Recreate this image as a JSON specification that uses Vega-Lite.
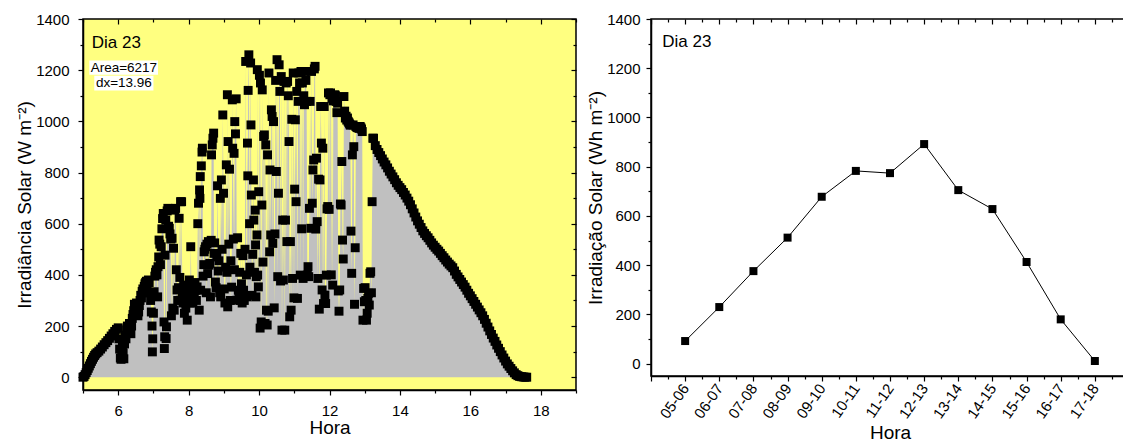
{
"$schema": "https://vega.github.io/schema/vega-lite/v6.json",
"bounds": "flush",
"spacing": 75,
"padding": {"left": 14, "top": 11, "right": 0, "bottom": 0},
"config": {
 "font": "Liberation Sans",
 "axis": {"labelFont": "Liberation Sans", "labelFontSize": 15, "labelColor": "#000", "titleFont": "Liberation Sans", "titleFontSize": 19, "titleFontWeight": "normal", "titleColor": "#000", "domainColor": "#000", "domainWidth": 1.5, "tickColor": "#000", "tickWidth": 1.2, "grid": false, "labelOverlap": false, "labelFlush": false}
},
"datasets": {
"irr": [
{"h":5.00,"w":0},{"h":5.03,"w":3},{"h":5.06,"w":10},{"h":5.09,"w":18},{"h":5.12,"w":26},{"h":5.15,"w":35},{"h":5.18,"w":44},{"h":5.21,"w":53},{"h":5.24,"w":62},{"h":5.27,"w":70},{"h":5.30,"w":78},{"h":5.33,"w":85},{"h":5.36,"w":91},{"h":5.40,"w":96},{"h":5.45,"w":102},{"h":5.50,"w":110},{"h":5.55,"w":118},{"h":5.60,"w":127},{"h":5.65,"w":135},{"h":5.70,"w":143},{"h":5.75,"w":152},{"h":5.80,"w":161},{"h":5.85,"w":170},{"h":5.90,"w":179},{"h":5.95,"w":187},{"h":6.00,"w":193},
{"h":6.02,"w":150},{"h":6.04,"w":110},{"h":6.06,"w":75},{"h":6.08,"w":70},{"h":6.10,"w":85},{"h":6.12,"w":120},{"h":6.14,"w":95},{"h":6.16,"w":72},{"h":6.18,"w":130},{"h":6.20,"w":165},{"h":6.22,"w":150},{"h":6.24,"w":185},{"h":6.26,"w":200},{"h":6.28,"w":175},{"h":6.30,"w":195},{"h":6.32,"w":210},{"h":6.34,"w":190},{"h":6.36,"w":170},{"h":6.38,"w":200},{"h":6.40,"w":230},{"h":6.42,"w":245},{"h":6.44,"w":260},{"h":6.46,"w":285},{"h":6.48,"w":270},{"h":6.50,"w":250},{"h":6.52,"w":290},{"h":6.54,"w":275},{"h":6.56,"w":240},{"h":6.58,"w":255},{"h":6.60,"w":280},{"h":6.62,"w":300},{"h":6.64,"w":320},{"h":6.66,"w":310},{"h":6.68,"w":335},{"h":6.70,"w":345},{"h":6.72,"w":330},{"h":6.74,"w":355},{"h":6.76,"w":365},{"h":6.78,"w":370},{"h":6.80,"w":375},{"h":6.82,"w":360},{"h":6.84,"w":375},{"h":6.86,"w":380},{"h":6.88,"w":370},{"h":6.90,"w":330},{"h":6.92,"w":300},{"h":6.94,"w":255},{"h":6.96,"w":200},{"h":6.97,"w":99},{"h":6.98,"w":150},{"h":7.00,"w":250},
{"h":7.02,"w":334},{"h":7.04,"w":395},{"h":7.06,"w":410},{"h":7.08,"w":420},{"h":7.10,"w":400},{"h":7.12,"w":314},{"h":7.13,"w":432},{"h":7.15,"w":470},{"h":7.16,"w":536},{"h":7.18,"w":520},{"h":7.20,"w":440},{"h":7.22,"w":510},{"h":7.24,"w":580},{"h":7.26,"w":620},{"h":7.28,"w":640},{"h":7.30,"w":216},{"h":7.31,"w":112},{"h":7.32,"w":158},{"h":7.33,"w":477},{"h":7.35,"w":614},{"h":7.36,"w":151},{"h":7.37,"w":197},{"h":7.39,"w":650},{"h":7.41,"w":660},{"h":7.43,"w":590},{"h":7.45,"w":582},{"h":7.47,"w":560},{"h":7.49,"w":540},{"h":7.51,"w":240},{"h":7.53,"w":543},{"h":7.55,"w":270},{"h":7.57,"w":504},{"h":7.59,"w":262},{"h":7.61,"w":653},{"h":7.63,"w":660},{"h":7.65,"w":420},{"h":7.67,"w":341},{"h":7.69,"w":300},{"h":7.71,"w":350},{"h":7.73,"w":621},{"h":7.75,"w":390},{"h":7.77,"w":686},{"h":7.78,"w":301},{"h":7.80,"w":686},{"h":7.82,"w":330},{"h":7.84,"w":290},{"h":7.86,"w":360},{"h":7.88,"w":250},{"h":7.90,"w":310},{"h":7.92,"w":270},{"h":7.94,"w":350},{"h":7.96,"w":223},{"h":7.98,"w":330},
{"h":8.00,"w":300},{"h":8.02,"w":380},{"h":8.04,"w":290},{"h":8.06,"w":510},{"h":8.08,"w":350},{"h":8.10,"w":310},{"h":8.12,"w":290},{"h":8.14,"w":330},{"h":8.16,"w":314},{"h":8.18,"w":370},{"h":8.20,"w":340},{"h":8.22,"w":300},{"h":8.24,"w":353},{"h":8.26,"w":600},{"h":8.28,"w":680},{"h":8.30,"w":262},{"h":8.31,"w":732},{"h":8.32,"w":699},{"h":8.33,"w":784},{"h":8.34,"w":340},{"h":8.36,"w":826},{"h":8.38,"w":880},{"h":8.39,"w":895},{"h":8.41,"w":395},{"h":8.43,"w":440},{"h":8.44,"w":490},{"h":8.46,"w":500},{"h":8.48,"w":510},{"h":8.50,"w":330},{"h":8.52,"w":520},{"h":8.54,"w":405},{"h":8.56,"w":530},{"h":8.58,"w":438},{"h":8.60,"w":445},{"h":8.62,"w":314},{"h":8.64,"w":535},{"h":8.65,"w":869},{"h":8.67,"w":908},{"h":8.69,"w":934},{"h":8.71,"w":954},{"h":8.72,"w":484},{"h":8.74,"w":525},{"h":8.76,"w":372},{"h":8.78,"w":350},{"h":8.80,"w":470},{"h":8.82,"w":748},{"h":8.84,"w":415},{"h":8.86,"w":455},{"h":8.88,"w":330},{"h":8.90,"w":699},{"h":8.91,"w":314},{"h":8.93,"w":771},{"h":8.95,"w":500},{"h":8.97,"w":1025},{"h":8.99,"w":719},
{"h":9.01,"w":345},{"h":9.03,"w":290},{"h":9.05,"w":430},{"h":9.07,"w":830},{"h":9.09,"w":410},{"h":9.10,"w":1104},{"h":9.11,"w":275},{"h":9.12,"w":921},{"h":9.14,"w":520},{"h":9.16,"w":813},{"h":9.18,"w":300},{"h":9.20,"w":455},{"h":9.22,"w":352},{"h":9.24,"w":1084},{"h":9.25,"w":895},{"h":9.27,"w":540},{"h":9.29,"w":875},{"h":9.30,"w":420},{"h":9.31,"w":999},{"h":9.33,"w":951},{"h":9.35,"w":1088},{"h":9.37,"w":301},{"h":9.39,"w":545},{"h":9.41,"w":340},{"h":9.43,"w":320},{"h":9.45,"w":410},{"h":9.47,"w":300},{"h":9.48,"w":484},{"h":9.50,"w":365},{"h":9.52,"w":290},{"h":9.54,"w":475},{"h":9.56,"w":340},{"h":9.58,"w":300},{"h":9.60,"w":500},{"h":9.62,"w":1234},{"h":9.64,"w":400},{"h":9.66,"w":314},{"h":9.67,"w":915},{"h":9.68,"w":787},{"h":9.69,"w":1121},{"h":9.71,"w":1260},{"h":9.73,"w":600},{"h":9.74,"w":430},{"h":9.76,"w":1228},{"h":9.77,"w":986},{"h":9.78,"w":712},{"h":9.80,"w":320},{"h":9.82,"w":480},{"h":9.84,"w":771},{"h":9.85,"w":614},{"h":9.87,"w":410},{"h":9.89,"w":653},{"h":9.90,"w":517},{"h":9.91,"w":314},{"h":9.92,"w":393},{"h":9.94,"w":556},{"h":9.95,"w":1202},{"h":9.96,"w":399},{"h":9.98,"w":353},{"h":9.99,"w":725},
{"h":10.01,"w":1180},{"h":10.03,"w":192},{"h":10.04,"w":1150},{"h":10.06,"w":216},{"h":10.08,"w":673},{"h":10.09,"w":1123},{"h":10.11,"w":450},{"h":10.13,"w":941},{"h":10.15,"w":947},{"h":10.17,"w":210},{"h":10.19,"w":908},{"h":10.21,"w":262},{"h":10.23,"w":204},{"h":10.24,"w":869},{"h":10.26,"w":258},{"h":10.28,"w":1189},{"h":10.30,"w":490},{"h":10.31,"w":810},{"h":10.33,"w":556},{"h":10.35,"w":1045},{"h":10.37,"w":1019},{"h":10.39,"w":523},{"h":10.41,"w":999},{"h":10.43,"w":271},{"h":10.45,"w":560},{"h":10.47,"w":1160},{"h":10.49,"w":804},{"h":10.51,"w":1241},{"h":10.53,"w":393},{"h":10.55,"w":719},{"h":10.57,"w":1221},{"h":10.59,"w":1117},{"h":10.61,"w":376},{"h":10.63,"w":1175},{"h":10.65,"w":184},{"h":10.67,"w":614},{"h":10.69,"w":380},{"h":10.71,"w":1156},{"h":10.73,"w":184},{"h":10.75,"w":614},{"h":10.77,"w":1150},{"h":10.79,"w":530},{"h":10.81,"w":1156},{"h":10.83,"w":1100},{"h":10.85,"w":921},{"h":10.87,"w":236},{"h":10.89,"w":530},{"h":10.91,"w":262},{"h":10.93,"w":1008},{"h":10.95,"w":386},{"h":10.97,"w":1189},{"h":10.99,"w":310},
{"h":11.01,"w":735},{"h":11.03,"w":1006},{"h":11.05,"w":686},{"h":11.07,"w":1117},{"h":11.09,"w":308},{"h":11.11,"w":1078},{"h":11.13,"w":1189},{"h":11.15,"w":1150},{"h":11.17,"w":399},{"h":11.19,"w":1195},{"h":11.21,"w":580},{"h":11.23,"w":1150},{"h":11.25,"w":386},{"h":11.27,"w":1100},{"h":11.29,"w":1065},{"h":11.31,"w":1195},{"h":11.33,"w":1160},{"h":11.35,"w":1078},{"h":11.37,"w":399},{"h":11.39,"w":432},{"h":11.41,"w":393},{"h":11.43,"w":660},{"h":11.45,"w":1078},{"h":11.47,"w":582},{"h":11.49,"w":1195},{"h":11.51,"w":680},{"h":11.53,"w":810},{"h":11.55,"w":849},{"h":11.57,"w":1205},{"h":11.59,"w":1215},{"h":11.61,"w":579},{"h":11.63,"w":856},{"h":11.65,"w":608},{"h":11.67,"w":386},{"h":11.69,"w":774},{"h":11.71,"w":266},{"h":11.73,"w":771},{"h":11.75,"w":1058},{"h":11.77,"w":915},{"h":11.79,"w":341},{"h":11.81,"w":895},{"h":11.83,"w":288},{"h":11.85,"w":1058},{"h":11.87,"w":321},{"h":11.89,"w":288},{"h":11.91,"w":399},{"h":11.93,"w":658},{"h":11.95,"w":667},{"h":11.97,"w":1111},{"h":11.99,"w":656},
{"h":12.01,"w":1104},{"h":12.03,"w":1111},{"h":12.05,"w":400},{"h":12.07,"w":1090},{"h":12.09,"w":360},{"h":12.11,"w":1080},{"h":12.13,"w":1095},{"h":12.15,"w":1104},{"h":12.17,"w":1100},{"h":12.19,"w":1078},{"h":12.21,"w":1034},{"h":12.23,"w":1071},{"h":12.25,"w":337},{"h":12.27,"w":258},{"h":12.29,"w":341},{"h":12.31,"w":677},{"h":12.33,"w":673},{"h":12.35,"w":843},{"h":12.37,"w":536},{"h":12.39,"w":462},{"h":12.41,"w":1097},{"h":12.43,"w":1040},{"h":12.45,"w":1013},{"h":12.47,"w":1020},{"h":12.49,"w":1005},{"h":12.51,"w":1013},{"h":12.53,"w":1000},{"h":12.55,"w":995},{"h":12.57,"w":990},{"h":12.59,"w":985},{"h":12.61,"w":571},{"h":12.63,"w":406},{"h":12.65,"w":869},{"h":12.67,"w":986},{"h":12.69,"w":901},{"h":12.71,"w":285},{"h":12.73,"w":506},{"h":12.75,"w":980},{"h":12.77,"w":978},{"h":12.79,"w":976},{"h":12.81,"w":975},{"h":12.83,"w":974},{"h":12.85,"w":973},{"h":12.87,"w":980},{"h":12.89,"w":975},{"h":12.91,"w":970},{"h":12.93,"w":960},{"h":12.95,"w":223},{"h":12.97,"w":347},{"h":12.99,"w":295},
{"h":13.01,"w":350},{"h":13.03,"w":300},{"h":13.05,"w":223},{"h":13.07,"w":250},{"h":13.09,"w":308},{"h":13.11,"w":328},{"h":13.13,"w":282},{"h":13.15,"w":406},{"h":13.17,"w":412},{"h":13.19,"w":330},{"h":13.21,"w":686},{"h":13.23,"w":934},
{"h":13.25,"w":934},{"h":13.30,"w":905},{"h":13.35,"w":890},{"h":13.40,"w":878},{"h":13.45,"w":866},{"h":13.50,"w":853},{"h":13.55,"w":841},{"h":13.60,"w":830},{"h":13.65,"w":818},{"h":13.70,"w":805},{"h":13.75,"w":794},{"h":13.80,"w":783},{"h":13.85,"w":772},{"h":13.90,"w":760},{"h":13.95,"w":750},{"h":14.00,"w":741},{"h":14.05,"w":733},{"h":14.10,"w":722},{"h":14.15,"w":712},{"h":14.20,"w":700},{"h":14.25,"w":688},{"h":14.30,"w":674},{"h":14.35,"w":658},{"h":14.40,"w":642},{"h":14.45,"w":626},{"h":14.50,"w":611},{"h":14.55,"w":598},{"h":14.60,"w":585},{"h":14.65,"w":572},{"h":14.70,"w":562},{"h":14.75,"w":553},{"h":14.80,"w":545},{"h":14.85,"w":535},{"h":14.90,"w":525},{"h":14.95,"w":516},{"h":15.00,"w":508},{"h":15.05,"w":500},{"h":15.10,"w":493},{"h":15.15,"w":484},{"h":15.20,"w":475},{"h":15.25,"w":467},{"h":15.30,"w":458},{"h":15.35,"w":450},{"h":15.40,"w":442},{"h":15.45,"w":435},{"h":15.50,"w":428},{"h":15.55,"w":415},{"h":15.60,"w":402},{"h":15.65,"w":392},{"h":15.70,"w":382},{"h":15.75,"w":372},{"h":15.80,"w":362},{"h":15.85,"w":352},{"h":15.90,"w":340},{"h":15.95,"w":328},{"h":16.00,"w":318},{"h":16.05,"w":307},{"h":16.10,"w":296},{"h":16.15,"w":285},{"h":16.20,"w":274},{"h":16.25,"w":263},{"h":16.30,"w":252},{"h":16.35,"w":240},{"h":16.40,"w":226},{"h":16.45,"w":211},{"h":16.50,"w":196},{"h":16.55,"w":181},{"h":16.60,"w":167},{"h":16.65,"w":153},{"h":16.70,"w":140},{"h":16.75,"w":126},{"h":16.80,"w":113},{"h":16.85,"w":100},{"h":16.90,"w":87},{"h":16.95,"w":75},{"h":17.00,"w":63},{"h":17.05,"w":52},{"h":17.10,"w":43},{"h":17.15,"w":34},{"h":17.20,"w":25},{"h":17.25,"w":17},{"h":17.30,"w":10},{"h":17.35,"w":6},{"h":17.40,"w":3},{"h":17.45,"w":2},{"h":17.50,"w":1},{"h":17.55,"w":0},{"h":17.60,"w":0}
],
"diario": [
{"inicio":5,"wh":92},{"inicio":6,"wh":230},{"inicio":7,"wh":376},{"inicio":8,"wh":512},{"inicio":9,"wh":678},{"inicio":10,"wh":783},{"inicio":11,"wh":774},{"inicio":12,"wh":892},{"inicio":13,"wh":705},{"inicio":14,"wh":628},{"inicio":15,"wh":413},{"inicio":16,"wh":180},{"inicio":17,"wh":11}
]
},
"hconcat": [
{
 "width": 493, "height": 371,
 "view": {"fill": "#ffff80", "stroke": "#000", "strokeWidth": 1.5},
 "resolve": {"axis": {"x": "independent", "y": "independent"}},
 "layer": [
  {
   "data": {"name": "irr"},
   "mark": {"type": "area", "color": "#c0c0c0", "opacity": 1},
   "encoding": {
    "x": {"field": "h", "type": "quantitative", "scale": {"domain": [5, 19], "nice": false, "zero": false},
      "axis": {"orient": "bottom", "title": "Hora", "values": [5,6,7,8,9,10,11,12,13,14,15,16,17,18,19], "format": "d", "labelExpr": "datum.value % 2 === 0 ? datum.label : ''", "tickSize": {"condition": {"test": "datum.value % 2 !== 0", "value": 3}, "value": 5}, "labelPadding": 8, "titlePadding": 0}},
    "y": {"field": "w", "type": "quantitative", "scale": {"domain": [-50, 1400], "nice": false, "zero": false},
      "axis": {"orient": "left", "title": "Irradiância Solar (W m⁻²)", "values": [0,100,200,300,400,500,600,700,800,900,1000,1100,1200,1300,1400], "format": "d", "labelExpr": "datum.value % 200 === 0 ? datum.label : ''", "tickSize": {"condition": {"test": "datum.value % 200 !== 0", "value": 3}, "value": 5}, "labelPadding": 9, "titlePadding": 1}},
    "y2": {"datum": 0}
   }
  },
  {
   "data": {"name": "irr"},
   "mark": {"type": "point", "shape": "square", "filled": true, "color": "#000", "size": 80, "opacity": 1},
   "encoding": {
    "x": {"field": "h", "type": "quantitative", "scale": {"domain": [5, 19], "nice": false, "zero": false}, "axis": null},
    "y": {"field": "w", "type": "quantitative", "scale": {"domain": [-50, 1400], "nice": false, "zero": false}, "axis": null}
   }
  },
  {
   "data": {"values": [{}]},
   "mark": {"type": "rect", "color": "#ffffff", "opacity": 1},
   "encoding": {
    "x": {"datum": 5.18, "type": "quantitative", "scale": {"domain": [5, 19], "nice": false, "zero": false},
      "axis": {"orient": "top", "title": null, "labels": false, "domain": false, "values": [5,6,7,8,9,10,11,12,13,14,15,16,17,18,19], "tickSize": {"condition": {"test": "datum.value % 2 !== 0", "value": -3}, "value": -5}}},
    "x2": {"datum": 7.13},
    "y": {"datum": 1238, "type": "quantitative", "scale": {"domain": [-50, 1400], "nice": false, "zero": false},
      "axis": {"orient": "right", "title": null, "labels": false, "domain": false, "values": [0,100,200,300,400,500,600,700,800,900,1000,1100,1200,1300,1400], "tickSize": {"condition": {"test": "datum.value % 200 !== 0", "value": -3}, "value": -5}}},
    "y2": {"datum": 1182}
   }
  },
  {
   "data": {"values": [{}]},
   "mark": {"type": "rect", "color": "#ffffff", "opacity": 1},
   "encoding": {
    "x": {"datum": 5.32, "type": "quantitative", "scale": {"domain": [5, 19], "nice": false, "zero": false}, "axis": null},
    "x2": {"datum": 7.0},
    "y": {"datum": 1178, "type": "quantitative", "scale": {"domain": [-50, 1400], "nice": false, "zero": false}, "axis": null},
    "y2": {"datum": 1121}
   }
  },
  {
   "data": {"values": [{}]},
   "mark": {"type": "text", "align": "left", "baseline": "middle", "font": "Liberation Sans", "fontSize": 17, "color": "#000"},
   "encoding": {
    "x": {"datum": 5.25, "type": "quantitative", "scale": {"domain": [5, 19], "nice": false, "zero": false}, "axis": null},
    "y": {"datum": 1305, "type": "quantitative", "scale": {"domain": [-50, 1400], "nice": false, "zero": false}, "axis": null},
    "text": {"value": "Dia 23"}
   }
  },
  {
   "data": {"values": [{}]},
   "mark": {"type": "text", "align": "center", "baseline": "middle", "font": "Liberation Sans", "fontSize": 13.5, "color": "#000"},
   "encoding": {
    "x": {"datum": 6.16, "type": "quantitative", "scale": {"domain": [5, 19], "nice": false, "zero": false}, "axis": null},
    "y": {"datum": 1209, "type": "quantitative", "scale": {"domain": [-50, 1400], "nice": false, "zero": false}, "axis": null},
    "text": {"value": "Area=6217"}
   }
  },
  {
   "data": {"values": [{}]},
   "mark": {"type": "text", "align": "center", "baseline": "middle", "font": "Liberation Sans", "fontSize": 13.5, "color": "#000"},
   "encoding": {
    "x": {"datum": 6.16, "type": "quantitative", "scale": {"domain": [5, 19], "nice": false, "zero": false}, "axis": null},
    "y": {"datum": 1149, "type": "quantitative", "scale": {"domain": [-50, 1400], "nice": false, "zero": false}, "axis": null},
    "text": {"value": "dx=13.96"}
   }
  }
 ]
},
{
 "width": 478, "height": 357,
 "view": {"fill": "#ffffff", "stroke": "#000", "strokeWidth": 1.5},
 "resolve": {"axis": {"x": "independent", "y": "independent"}},
 "layer": [
  {
   "data": {"name": "diario"},
   "mark": {"type": "line", "color": "#000", "strokeWidth": 1},
   "encoding": {
    "x": {"field": "inicio", "type": "quantitative", "scale": {"domain": [4, 18], "nice": false, "zero": false},
      "axis": {"orient": "bottom", "title": "Hora", "values": [4,4.5,5,5.5,6,6.5,7,7.5,8,8.5,9,9.5,10,10.5,11,11.5,12,12.5,13,13.5,14,14.5,15,15.5,16,16.5,17,17.5,18], "labelExpr": "(datum.value % 1 === 0 && datum.value >= 5 && datum.value <= 17) ? ((datum.value < 10 ? '0' : '') + datum.value + '-' + (datum.value + 1 < 10 ? '0' : '') + (datum.value + 1)) : ''", "labelAngle": -55, "labelAlign": "right", "labelBaseline": "middle", "tickSize": {"condition": {"test": "datum.value % 1 !== 0", "value": 3}, "value": 5}, "labelPadding": 4, "titlePadding": 2}},
    "y": {"field": "wh", "type": "quantitative", "scale": {"domain": [-50, 1400], "nice": false, "zero": false},
      "axis": {"orient": "left", "title": "Irradiação Solar (Wh m⁻²)", "values": [0,100,200,300,400,500,600,700,800,900,1000,1100,1200,1300,1400], "format": "d", "labelExpr": "datum.value % 200 === 0 ? datum.label : ''", "tickSize": {"condition": {"test": "datum.value % 200 !== 0", "value": 3}, "value": 5}, "labelPadding": 6, "titlePadding": 1}}
   }
  },
  {
   "data": {"name": "diario"},
   "mark": {"type": "point", "shape": "square", "filled": true, "color": "#000", "size": 64, "opacity": 1},
   "encoding": {
    "x": {"field": "inicio", "type": "quantitative", "scale": {"domain": [4, 18], "nice": false, "zero": false}, "axis": null},
    "y": {"field": "wh", "type": "quantitative", "scale": {"domain": [-50, 1400], "nice": false, "zero": false}, "axis": null}
   }
  },
  {
   "data": {"values": [{}]},
   "mark": {"type": "text", "align": "left", "baseline": "middle", "font": "Liberation Sans", "fontSize": 17, "color": "#000"},
   "encoding": {
    "x": {"datum": 4.33, "type": "quantitative", "scale": {"domain": [4, 18], "nice": false, "zero": false},
      "axis": {"orient": "top", "title": null, "labels": false, "domain": false, "values": [4,4.5,5,5.5,6,6.5,7,7.5,8,8.5,9,9.5,10,10.5,11,11.5,12,12.5,13,13.5,14,14.5,15,15.5,16,16.5,17,17.5,18], "tickSize": {"condition": {"test": "datum.value % 1 !== 0", "value": -3}, "value": -5}}},
    "y": {"datum": 1306, "type": "quantitative", "scale": {"domain": [-50, 1400], "nice": false, "zero": false},
      "axis": {"orient": "right", "title": null, "labels": false, "domain": false, "values": [0,100,200,300,400,500,600,700,800,900,1000,1100,1200,1300,1400], "tickSize": {"condition": {"test": "datum.value % 200 !== 0", "value": -3}, "value": -6}}},
    "text": {"value": "Dia 23"}
   }
  }
 ]
}
]
}
